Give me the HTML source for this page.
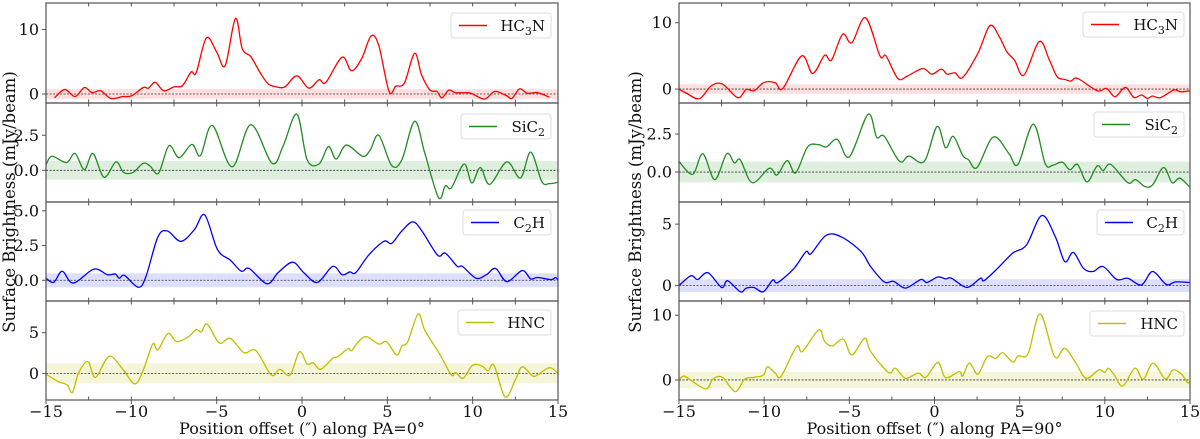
<!DOCTYPE html>
<html><head><meta charset="utf-8"><style>
html,body{margin:0;padding:0;background:#fff;}
svg{display:block;font-family:"DejaVu Serif","Liberation Serif",serif;}
</style></head><body>
<svg id="fig" width="1200" height="439" viewBox="0 0 1200 439" xmlns="http://www.w3.org/2000/svg"></svg>
<script>
// ---- data (arcsec offsets, mJy/beam) ----
const hc3nL_x=[-14.5,-13.9,-13.3,-12.75,-12.3,-11.8,-11.2,-10.5,-10,-9.3,-9.0,-8.6,-8.1,-7.5,-7.0,-6.5,-6.2,-5.6,-5.0,-4.5,-3.9,-3.5,-3.0,-2.5,-2.0,-1.5,-1.0,-0.3,0.4,1.0,1.4,2.35,2.9,3.5,4.05,4.5,5.1,5.5,6.0,6.6,7.0,7.5,7.9,8.2,8.6,9.0,9.7,10.0,10.7,11.3,12.0,12.3,12.75,13.2,13.8,14.5];
const hc3nL_y=[-0.6,0.7,-0.4,1.0,0.2,0.5,-0.7,-0.4,-0.3,1.0,0.9,1.8,0.5,1.1,1.3,3.4,3.3,8.7,6.5,4.4,11.7,7.0,5.8,3.5,1.6,1.1,1.1,2.8,0.9,2.2,1.8,5.7,3.6,5.5,9.0,7.5,0.4,1.2,1.7,6.3,3.0,0.6,0.4,-0.6,0.6,0.2,0.2,0.0,-0.8,0.4,-0.3,-0.7,0.8,0.1,0.2,-0.5];
const sic2L_x=[-15,-14.65,-13.8,-13.3,-12.75,-12.25,-11.6,-10.9,-10.45,-9.9,-9.3,-8.9,-8.4,-7.8,-7.2,-6.45,-5.95,-5.25,-4.1,-3.0,-1.75,-1.1,-0.3,0.3,1.0,1.55,2.0,2.6,3.55,4.0,4.5,5.25,5.85,6.6,7.2,8.0,8.4,8.75,9.5,9.95,10.45,11.0,12.0,12.8,13.4,14.05,14.5,15];
const sic2L_y=[0.4,1.0,0.55,1.2,0.05,1.2,-0.5,0.6,-0.15,-0.15,0.5,0.3,-0.2,1.75,0.9,1.85,1.05,3.2,0.25,3.25,0.5,1.75,4.0,0.75,0.45,1.7,0.8,1.8,1.0,1.45,2.5,0.35,0.75,3.5,1.2,-1.95,-1.1,-1.25,0.45,-0.9,0.2,-1.0,0.6,-0.55,1.3,-0.8,-0.95,-0.85];
const c2hL_x=[-15,-14.55,-14.05,-13.4,-12.2,-11.4,-10.95,-10.7,-10.4,-9.6,-9.15,-8.45,-7.9,-7.1,-6.3,-5.7,-4.95,-4.2,-3.55,-3.1,-2.05,-1.4,-0.55,0.1,0.9,1.8,2.35,2.8,3.15,3.9,4.8,5.25,5.85,6.5,7.05,7.95,8.4,9.1,9.4,10.2,10.8,11.35,12.0,12.9,13.4,13.8,14.6,14.85,15];
const c2hL_y=[0.15,-0.15,0.65,-0.2,0.8,0.4,0.45,0.15,0.35,-0.5,0.25,3.1,3.55,2.8,3.65,4.7,2.2,1.45,0.65,0.85,-0.25,0.55,1.3,0.55,-0.15,1.0,0.4,0.6,0.55,1.8,2.8,2.65,3.55,4.2,3.5,1.8,1.95,1.0,1.0,0.15,0.4,0.85,-0.1,0.7,0.1,0.2,0.05,0.2,0.0];
const hncL_x=[-15,-14.3,-13.75,-13.45,-13.1,-12.55,-12.1,-11.3,-10.5,-9.8,-9.3,-8.75,-8.45,-7.85,-7.35,-6.65,-6.2,-5.9,-5.55,-4.85,-4.2,-3.4,-2.7,-1.8,-1.3,-0.7,-0.15,0.3,0.65,1.1,1.8,2.1,2.7,2.9,3.35,3.8,4.5,4.95,5.55,5.85,6.2,6.8,7.2,8.1,8.75,9.0,9.45,10.0,10.55,10.9,11.25,11.9,12.5,12.9,13.5,13.8,14.5,15];
const hncL_y=[-0.1,-1.0,-1.45,-2.35,0,1.45,-0.5,2.1,0.5,-1.3,0.4,3.6,2.9,4.9,3.9,4.5,5.4,5.1,6.05,3.75,4.3,2.55,2.8,-0.2,0.5,-0.2,2.65,1.15,1.3,0.5,1.85,2.05,3.05,2.8,4.0,4.5,3.6,3.9,2.25,3.35,3.9,7.3,5.3,2.25,-0.2,0.1,-0.6,1.0,0.9,0.3,1.0,-2.9,-0.8,0.8,-0.3,-0.2,0.7,0];
const hc3nR_x=[-15,-14.55,-13.8,-13.1,-12.45,-11.55,-11.05,-10.6,-10.0,-9.35,-8.9,-7.8,-7.15,-6.45,-6.05,-5.4,-4.85,-4.05,-3.2,-2.85,-2.15,-1.6,-0.7,-0.15,0.4,0.75,1.2,1.65,2.55,3.25,3.8,4.25,4.7,5.25,6.15,6.75,7.2,7.65,8.0,8.4,9.55,10.1,10.6,11.2,11.7,12.15,12.5,12.8,13.25,14.05,14.45,15];
const hc3nR_y=[0,-0.65,-1.45,0.5,0.75,-1.3,-0.05,-0.25,1.0,0.95,0.1,5.0,2.35,5.1,4.35,8.25,7.0,10.75,5.0,5.0,1.6,1.95,3.1,2.25,3.0,2.25,2.45,1.75,5.4,9.55,7.9,5.6,4.35,2.1,7.15,4.35,1.85,1.45,1.2,1.6,-0.25,0.1,-1.15,0.25,-1.25,-0.9,-1.4,-1.05,-1.3,-0.15,-0.4,-0.25];
const sic2R_x=[-15,-14.2,-13.6,-12.9,-12.2,-11.75,-11.4,-10.7,-9.7,-9.25,-8.65,-8.15,-7.45,-6.8,-6.35,-5.7,-5.0,-3.9,-3.4,-2.95,-2.05,-1.5,-0.6,0.15,0.65,1.1,1.65,2.0,2.5,3.45,4.35,4.9,5.8,6.5,6.95,7.5,7.95,8.4,8.95,9.55,9.9,10.35,11.35,11.8,12.35,12.8,13.45,13.95,14.4,15];
const sic2R_y=[0.7,-0.15,1.2,-0.5,1.2,0.6,0.8,-0.7,0.25,-0.2,0.75,-0.05,1.65,1.8,1.65,2.15,1.0,3.8,2.3,2.35,0.7,1.05,0.7,3.0,1.6,2.35,1.1,0.8,0.3,2.3,1.25,0.5,3.15,0.55,0.45,0.65,0.15,0.5,-0.65,0.4,0.1,0.5,-0.7,-0.5,-0.95,-0.85,0.3,-0.7,-0.4,-1.0];
const c2hR_x=[-15,-14.3,-13.9,-13.3,-12.5,-12.15,-11.4,-11.05,-10.6,-10.05,-9.5,-9.2,-8.25,-7.55,-7.25,-6.35,-5.45,-4.3,-3.75,-2.95,-2.4,-1.7,-0.8,-0.45,0.2,0.65,1.0,1.9,2.7,2.9,3.7,4.6,5.4,6.3,7.1,7.65,8.15,8.75,9.3,9.9,10.7,11.35,12.15,12.8,13.6,14.15,15];
const c2hR_y=[0,0.8,0.5,1.05,-0.15,0.4,-0.5,-0.2,-0.15,-0.5,0.45,0.25,1.4,2.75,2.6,4.1,3.95,2.75,1.55,0.3,0.35,-0.2,0.5,0.25,0.7,0.55,0.6,-0.15,0.6,0.4,1.4,2.65,3.3,5.7,3.95,1.95,2.7,1.4,1.15,1.55,0.5,0.6,0.05,1.15,0.1,0.3,0.25];
const hncR_x=[-15,-14.7,-14.2,-13.4,-13.0,-12.45,-11.7,-11.15,-10.6,-10.05,-9.8,-9.35,-9.0,-8.1,-7.75,-6.8,-6.45,-6.0,-5.35,-4.85,-4.1,-3.75,-2.7,-2.3,-1.7,-0.95,-0.5,0.2,0.65,1.45,1.65,2.05,2.55,3.1,3.6,4.0,4.6,4.9,5.5,6.2,7.05,7.65,8.3,8.9,9.65,10.0,10.2,10.55,11.05,11.75,12.15,12.35,12.85,13.55,14.0,14.5,14.85,15];
const hncR_y=[0,0.6,-0.25,-1.4,0.15,0.4,-1.8,0.1,0.4,0.75,2.05,1.05,0.6,5.15,4.4,7.75,5.95,5.25,6.3,3.85,6.45,4.4,1.15,1.8,0.25,1.05,0.4,2.7,0.35,1.3,0.6,2.6,0.9,3.6,3.35,4.2,2.75,3.7,4.1,10.2,3.6,4.9,2.6,0.25,1.55,1.15,1.8,0.8,-0.95,1.8,0.25,0.4,2.6,0.15,1.55,0.9,-0.4,-0.25];

const svg=document.getElementById('fig');
const NS='http://www.w3.org/2000/svg';
function mk(tag,attrs,parent){const e=document.createElementNS(NS,tag);for(const k in attrs)e.setAttribute(k,attrs[k]);(parent||svg).appendChild(e);return e;}
function pathFrom(pts){
  let d='M'+pts[0][0].toFixed(2)+','+pts[0][1].toFixed(2);
  for(let i=0;i<pts.length-1;i++){
    const p0=pts[Math.max(0,i-1)],p1=pts[i],p2=pts[i+1],p3=pts[Math.min(pts.length-1,i+2)];
    const c1=[p1[0]+(p2[0]-p0[0])/6,p1[1]+(p2[1]-p0[1])/6];
    const c2=[p2[0]-(p3[0]-p1[0])/6,p2[1]-(p3[1]-p1[1])/6];
    d+=' C'+c1[0].toFixed(2)+','+c1[1].toFixed(2)+' '+c2[0].toFixed(2)+','+c2[1].toFixed(2)+' '+p2[0].toFixed(2)+','+p2[1].toFixed(2);
  }
  return d;
}
const PT=[3,103,202,301,400];
const figs=[
 {x0:46,x1:558,side:'left',pa:'0',panels:[
  {name:'hc3n',label:['HC','3','N'],xs:hc3nL_x,ys:hc3nL_y,ylim:[-1.4,14.1],band:0.75,ticks:[0,10],tl:['0','10'],color:'#ff0000',band_c:'rgba(255,0,0,0.13)',leg:[451,13,100]},
  {name:'sic2',label:['SiC','2',''],xs:sic2L_x,ys:sic2L_y,ylim:[-2.26,4.8],band:0.66,ticks:[0,2.5],tl:['0.0','2.5'],color:'#228b22',band_c:'rgba(0,128,0,0.13)',leg:[461,114,90]},
  {name:'c2h',label:['C','2','H'],xs:c2hL_x,ys:c2hL_y,ylim:[-1.49,5.63],band:0.5,ticks:[0,2.5,5],tl:['0.0','2.5','5.0'],color:'#0000ff',band_c:'rgba(0,0,255,0.13)',leg:[463,210,88]},
  {name:'hnc',label:['HNC','',''],xs:hncL_x,ys:hncL_y,ylim:[-3.28,8.9],band:1.23,ticks:[0,5],tl:['0','5'],color:'#bfbf00',band_c:'rgba(191,191,0,0.15)',leg:[458,310,93]}
 ]},
 {x0:679,x1:1190,side:'right',pa:'90',panels:[
  {name:'hc3n',label:['HC','3','N'],xs:hc3nR_x,ys:hc3nR_y,ylim:[-2.1,12.97],band:0.7,ticks:[0,10],tl:['0','10'],color:'#ff0000',band_c:'rgba(255,0,0,0.13)',leg:[1083,12,101]},
  {name:'sic2',label:['SiC','2',''],xs:sic2R_x,ys:sic2R_y,ylim:[-1.97,4.54],band:0.68,ticks:[0,2.5],tl:['0.0','2.5'],color:'#228b22',band_c:'rgba(0,128,0,0.13)',leg:[1094,112,90]},
  {name:'c2h',label:['C','2','H'],xs:c2hR_x,ys:c2hR_y,ylim:[-1.25,6.8],band:0.52,ticks:[0,5],tl:['0','5'],color:'#0000ff',band_c:'rgba(0,0,255,0.13)',leg:[1097,210,87]},
  {name:'hnc',label:['HNC','',''],xs:hncR_x,ys:hncR_y,ylim:[-3.1,12.2],band:1.25,ticks:[0,10],tl:['0','10'],color:'#bfbf00',band_c:'rgba(191,191,0,0.15)',leg:[1090,311,94]}
 ]}
];
figs.forEach(f=>{
  const g=mk('g',{});
  
  
  const X=v=>f.x0+(v+15)/30*(f.x1-f.x0);
  f.panels.forEach((p,i)=>{
    const top=PT[i],bot=PT[i+1];
    const Y=v=>bot-(v-p.ylim[0])/(p.ylim[1]-p.ylim[0])*(bot-top);
    const pg=mk('g',{},g);
    
    
    const cp='clip-'+f.side+i;
    const cl=mk('clipPath',{id:cp},pg);mk('rect',{x:f.x0,y:top,width:f.x1-f.x0,height:bot-top},cl);
    const band=mk('rect',{x:f.x0,y:Y(p.band),width:f.x1-f.x0,height:Y(-p.band)-Y(p.band),fill:p.band_c},pg);
    
    
    const zl=mk('line',{x1:f.x0,x2:f.x1,y1:Y(0),y2:Y(0),stroke:'#333','stroke-width':0.8,'stroke-dasharray':'2,1.5'},pg);
    
    
    const pts=p.xs.map((x,k)=>[X(x),Y(p.ys[k])]);
    const line=mk('path',{d:pathFrom(pts),fill:'none',stroke:p.color,'stroke-width':1.3,'clip-path':'url(#'+cp+')'},pg);
    
    
    const fr=mk('rect',{x:f.x0,y:top,width:f.x1-f.x0,height:bot-top,fill:'none',stroke:'#555','stroke-width':1.2},pg);
    
    
    for(let t=-15;t<=15;t+=2.5){
      mk('line',{x1:X(t),x2:X(t),y1:top,y2:top+3.5,stroke:'#555','stroke-width':1},pg);
      mk('line',{x1:X(t),x2:X(t),y1:bot,y2:bot-3.5,stroke:'#555','stroke-width':1},pg);
    }
    p.ticks.forEach((t,k)=>{
      mk('line',{x1:f.x0-4,x2:f.x0,y1:Y(t),y2:Y(t),stroke:'#555','stroke-width':1},pg);
      const tx=mk('text',{x:f.x0-7,y:Y(t)+5.5,'text-anchor':'end','font-size':16,fill:'#111'},pg);
      tx.textContent=p.tl[k];
      
      
    });
    const [lx,ly,lw]=p.leg;
    const lg=mk('g',{},pg);
    
    
    mk('rect',{x:lx,y:ly,width:lw,height:25,rx:3,fill:'#fff','fill-opacity':0.85,stroke:'#ddd','stroke-width':1},lg);
    mk('line',{x1:lx+8,x2:lx+36,y1:ly+12.5,y2:ly+12.5,stroke:p.color,'stroke-width':1.5},lg);
    const lt=mk('text',{x:lx+lw-6,y:ly+18,'text-anchor':'end','font-size':15,fill:'#111'},lg);
    
    
    const a=mk('tspan',{},lt);a.textContent=p.label[0];
    if(p.label[1]){const b=mk('tspan',{dy:4,'font-size':11},lt);b.textContent=p.label[1];
      const c=mk('tspan',{dy:-4},lt);c.textContent=p.label[2];}
  });
  [-15,-10,-5,0,5,10,15].forEach(t=>{
    mk('line',{x1:X(t),x2:X(t),y1:400,y2:404,stroke:'#555','stroke-width':1},g);
    const tx=mk('text',{x:X(t),y:417,'text-anchor':'middle','font-size':16,fill:'#111'},g);
    tx.textContent=(t<0?'\u2212'+(-t):''+t);
    
    
  });
  const xl=mk('text',{x:(f.x0+f.x1)/2,y:434,'text-anchor':'middle','font-size':16,fill:'#111'},g);
  xl.textContent='Position offset (\u2033) along PA='+f.pa+'\u00b0';
  
  
  const yx=f.side==='left'?15:641;
  const yl=mk('text',{x:yx,y:202,'text-anchor':'middle','font-size':16.5,fill:'#111',transform:'rotate(-90 '+yx+' 202)'},g);
  yl.textContent='Surface Brightness (mJy/beam)';
  
  
});
</script>
</body></html>
